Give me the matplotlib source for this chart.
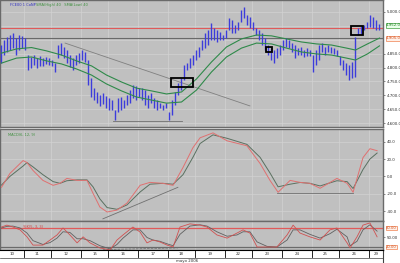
import matplotlib.pyplot as plt
import matplotlib.transforms as mtransforms
import numpy as np

# ---- price bars (hourly) ----
high = [4881, 4899, 4910, 4917, 4924, 4906, 4917, 4914, 4906, 4845,
        4838, 4845, 4834, 4842, 4834, 4838, 4834, 4827, 4816, 4881,
        4888, 4874, 4863, 4845, 4834, 4845, 4852, 4863, 4856, 4827,
        4762, 4726, 4712, 4701, 4708, 4698, 4690, 4683, 4647, 4690,
        4694, 4683, 4701, 4719, 4737, 4734, 4726, 4726, 4719, 4701,
        4708, 4690, 4683, 4672, 4665, 4672, 4640, 4683, 4712, 4744,
        4762, 4809, 4816, 4834, 4845, 4863, 4874, 4899, 4924, 4935,
        4960, 4942, 4935, 4928, 4917, 4935, 4978, 4971, 4953, 4964,
        5007, 5018, 4989, 4982, 4964, 4942, 4935, 4924, 4906, 4881,
        4870, 4863, 4870, 4881, 4899, 4906, 4899, 4888, 4881, 4870,
        4874, 4863, 4870, 4863, 4845, 4863, 4881, 4888, 4874, 4881,
        4874, 4870, 4863, 4842, 4827, 4816, 4809, 4820, 4910, 4942,
        4950, 4953, 4964, 4989, 4982, 4971, 4957]
low = [4816, 4845, 4856, 4863, 4870, 4845, 4863, 4870, 4863, 4791,
       4798, 4809, 4798, 4806, 4806, 4813, 4809, 4806, 4784, 4834,
       4845, 4834, 4816, 4802, 4791, 4809, 4816, 4827, 4820, 4737,
       4694, 4683, 4672, 4662, 4669, 4654, 4647, 4647, 4611, 4640,
       4647, 4654, 4665, 4672, 4690, 4683, 4694, 4683, 4665, 4654,
       4672, 4654, 4647, 4654, 4647, 4654, 4611, 4629, 4665, 4701,
       4719, 4755, 4791, 4798, 4809, 4827, 4838, 4863, 4870, 4881,
       4899, 4899, 4892, 4899, 4899, 4906, 4935, 4924, 4924, 4935,
       4964, 4978, 4953, 4942, 4935, 4917, 4899, 4881, 4863, 4845,
       4827, 4816, 4834, 4845, 4863, 4874, 4870, 4856, 4834, 4845,
       4845, 4838, 4842, 4842, 4784, 4809, 4827, 4856, 4845, 4856,
       4852, 4849, 4842, 4809, 4791, 4773, 4755, 4762, 4766, 4917,
       4921, 4935, 4942, 4946, 4942, 4935, 4935]

# moving average envelopes (sampled)
ma_x = [0, 5, 10, 15, 20, 25, 30, 35, 40, 45, 50, 55, 60, 65, 70, 75, 80,
        85, 90, 95, 100, 105, 110, 115, 118, 122, 126]
ma_high = [4852, 4867, 4872, 4860, 4845, 4824, 4806, 4773, 4748, 4726, 4716,
           4705, 4712, 4759, 4820, 4874, 4903, 4917, 4914, 4903, 4892, 4885,
           4881, 4870, 4863, 4885, 4906]
ma_low = [4816, 4834, 4838, 4824, 4813, 4795, 4773, 4741, 4716, 4694, 4683,
          4672, 4676, 4719, 4784, 4838, 4870, 4888, 4885, 4870, 4856, 4849,
          4845, 4834, 4827, 4849, 4878]
resistance = 4942
support = 4905
last_price = 4952

price_ticks = [4600, 4650, 4700, 4750, 4800, 4850, 5000]

# ---- MACD ----
macd_x = [0, 2.8, 7.2, 8.5, 10.5, 13.8, 17.2, 19.5, 21.8, 25.2, 28.5, 30.5,
          32.8, 35.2, 38.5, 41.8, 46.2, 49.5, 53.8, 57.2, 60.5, 63.8, 66.2,
          70.5, 75.2, 81.8, 86.2, 89.5, 92.2, 96.2, 99.5, 102.8, 106.2,
          111.8, 115.2, 117.2, 120.5, 122.8, 125.2]
macd_fast = [-12.6, 3.4, 18.3, 16, 6.9, -4.6, -10.3, -8, -2.3, -4.6, -4.6,
             -19.4, -35.4, -41.1, -38.9, -30.9, -10.3, -6.9, -8, -10.3, 10.3,
             33.1, 44.6, 50.3, 41.1, 35.4, 14.9, -4.6, -18.3, -4.6, -6.9, -8,
             -13.7, -2.3, -8, -18.3, 21.7, 32, 29.7]
macd_slow = [-10, 0, 12, 16, 11, 2, -6, -8, -5, -4, -4, -12, -26, -36, -38,
             -33, -18, -9, -8, -9, 2, 22, 38, 48, 44, 37, 22, 4, -12, -9, -7,
             -8, -11, -5, -6, -14, 8, 20, 27]

# ---- stochastic ----
stoch_x = [0, 1.8, 3.8, 6.2, 8.5, 10.5, 13.8, 16.2, 18.5, 20.5, 22.8, 25.2,
           27.2, 29.5, 32.8, 36.2, 38.5, 40.5, 43.8, 46.2, 48.5, 50.5, 52.8,
           55.2, 57.2, 59.5, 62.8, 66.2, 68.5, 71.8, 75.2, 78.5, 80.5, 82.8,
           85.2, 88.5, 91.8, 95.2, 97.2, 99.5, 102.8, 106.2, 109.5, 111.8,
           115.2, 116.2, 118.5, 120.5, 122.8, 125.2]
stoch_k = [83, 89, 83, 74, 52, 26, 26, 42, 58, 80, 58, 33, 52, 33, 17, 11, 42,
           58, 83, 67, 33, 42, 36, 26, 20, 83, 93, 89, 83, 58, 48, 64, 74, 64,
           20, 20, 20, 58, 89, 64, 52, 42, 74, 80, 33, 17, 52, 89, 96, 52]
stoch_d = [80, 85, 86, 80, 64, 40, 28, 34, 48, 68, 66, 46, 46, 40, 24, 14, 28,
           48, 74, 74, 50, 42, 38, 30, 24, 60, 86, 90, 86, 68, 54, 58, 68, 68,
           36, 22, 20, 42, 74, 74, 60, 48, 62, 76, 52, 24, 38, 74, 90, 70]

# ---- dates ----
day_start = [0, 8, 17, 27, 36, 46, 56, 65, 75, 84, 94, 104, 113, 123]
day_labels = ['10', '11', '12', '15', '16', '17', '18', '19', '22', '23',
              '24', '25', '26', '29']
month_label = 'mayo 2006'

n = len(high)
x = np.arange(n)
XMAX = 127.17

BG = '#c0c0c0'
GRID = '#d2d2d2'
BAR = '#3c3cdc'
GREEN = '#2f8a4a'
RED = '#e05a5a'
DARK = '#6a6a6a'
LBL = 2.9


def fmt_price(v):
    return f'{v:,.1f}'.replace(',', '.')


fig = plt.figure(figsize=(4, 2.63), dpi=100, facecolor='white')
ax1 = fig.add_axes([0, 0.517, 0.9575, 0.483])
ax2 = fig.add_axes([0, 0.160, 0.9575, 0.350])
ax3 = fig.add_axes([0, 0.0494, 0.9575, 0.1103])
ax4 = fig.add_axes([0, 0, 0.9575, 0.0494])

bounds = [d - 0.5 for d in day_start[1:]]

for ax in (ax1, ax2, ax3):
    ax.set_facecolor(BG)
    ax.set_xlim(-0.5, XMAX)
    ax.set_xticks([])
    for b in bounds:
        ax.axvline(b, color=GRID, lw=0.5, zorder=0)
    for s in ax.spines.values():
        s.set_color(DARK)
        s.set_linewidth(1.0)
    ax.yaxis.tick_right()
    ax.tick_params(axis='y', labelsize=LBL, length=1.5, width=0.4, pad=1.0,
                   colors='#303030')

# price panel
ax1.set_ylim(4586, 5043)
for t in price_ticks + [4900, 4950]:
    ax1.axhline(t, color=GRID, lw=0.5, zorder=0)
ax1.set_yticks(price_ticks)
ax1.set_yticklabels([fmt_price(t) for t in price_ticks])
ax1.vlines(x, low, high, color=BAR, lw=1.0, zorder=3)
ax1.plot(ma_x, ma_high, color=GREEN, lw=0.8, zorder=4)
ax1.plot(ma_x, ma_low, color=GREEN, lw=0.8, zorder=4)
ax1.axhline(resistance, color=RED, lw=0.8, zorder=2)
ax1.axhline(support, color=DARK, lw=0.8, zorder=2)
ax1.plot([21.2, 82.8], [4888, 4662], color='#808080', lw=0.6, zorder=2)
ax1.plot([37.2, 60.2], [4609, 4609], color='#707070', lw=0.6, zorder=2)
for (x0, x1, y0, y1) in [(56.5, 63.8, 4730, 4762), (88.2, 90.2, 4856, 4874),
                         (116.5, 120.5, 4917, 4950)]:
    ax1.add_patch(plt.Rectangle((x0, y0), x1 - x0, y1 - y0, fill=False,
                                ec='black', lw=1.3, zorder=6))
trans = mtransforms.blended_transform_factory(ax1.transAxes, ax1.transData)
ax1.text(1.008, last_price, fmt_price(last_price), transform=trans,
         fontsize=LBL, color='#208020', va='center', clip_on=False,
         bbox=dict(fc='#eaffea', ec='#40a040', lw=0.5, pad=0.4))
ax1.text(1.008, support, fmt_price(support), transform=trans,
         fontsize=LBL, color='#d05020', va='center', clip_on=False,
         bbox=dict(fc='#fff0e8', ec='#f08050', lw=0.5, pad=0.4))
ax1.text(0.025, 0.975, 'FCE00 1 CoNP', transform=ax1.transAxes, fontsize=2.6,
         color='#3030c0', va='top')
ax1.text(0.095, 0.975, 'SMA(High) 40   SMA(Low) 40', transform=ax1.transAxes,
         fontsize=2.6, color='#409040', va='top')

# MACD panel
ax2.set_ylim(-51.4, 54.9)
macd_ticks = [-40, -20, 0, 20, 40]
for t in macd_ticks:
    ax2.axhline(t, color=GRID, lw=0.5, zorder=0)
ax2.set_yticks(macd_ticks)
ax2.set_yticklabels([f'{t:.1f}' for t in macd_ticks])
ax2.plot(macd_x, macd_slow, color='#5a7060', lw=0.7, zorder=3)
ax2.plot(macd_x, macd_fast, color='#e07070', lw=0.7, zorder=4)
ax2.plot([33.8, 58.8], [-49, -12.6], color='#707070', lw=0.6)
ax2.plot([91.8, 117.2], [-19.4, -19.4], color='#707070', lw=0.6)
ax2.text(0.02, 0.96, 'MACD(6, 12, 9)', transform=ax2.transAxes, fontsize=2.6,
         color='#409040', va='top')

# stochastic panel
ax3.set_ylim(10.5, 102)
ax3.set_yticks([50])
ax3.set_yticklabels(['50.00'])
ax3.axhline(80, color=RED, lw=0.9, zorder=2)
ax3.axhline(20, color=DARK, lw=0.9, zorder=2)
ax3.plot(stoch_x, stoch_d, color='#606060', lw=0.6, zorder=3)
ax3.plot(stoch_x, stoch_k, color='#d05050', lw=0.6, zorder=4)
ax3.plot([33.8, 58.8], [12, 17], color='#707070', lw=0.5, ls='--')
trans3 = mtransforms.blended_transform_factory(ax3.transAxes, ax3.transData)
for lvl in (80, 20):
    ax3.text(1.008, lvl, f'{lvl:.2f}', transform=trans3, fontsize=2.7,
             color='#d05020', va='center', clip_on=False,
             bbox=dict(fc='#fff0e8', ec='#f08050', lw=0.5, pad=0.3))
ax3.text(0.06, 0.85, '%K(5, 3, 3)', transform=ax3.transAxes, fontsize=2.6,
         color='#d04040', va='top')

# date strip
ax4.set_facecolor('white')
ax4.set_xlim(-0.5, XMAX)
ax4.set_ylim(0, 1)
ax4.set_xticks([])
ax4.set_yticks([])
for s in ('left', 'bottom'):
    ax4.spines[s].set_visible(False)
ax4.spines['top'].set_color('black')
ax4.spines['right'].set_color('#404040')
ax4.axhline(0.38, color='#404040', lw=0.5)
for b in bounds:
    ax4.plot([b, b], [1, 0.45], color='black', lw=0.6)
edges = [-0.5] + bounds + [XMAX]
for i, lab in enumerate(day_labels):
    ax4.text((edges[i] + edges[i + 1]) / 2, 0.68, lab, fontsize=2.8,
             ha='center', va='center', color='#303030')
ax4.text(62, 0.13, month_label, fontsize=2.8, ha='center', va='center',
         color='#303030')

fig.savefig('out.png', dpi=100, facecolor='white')
